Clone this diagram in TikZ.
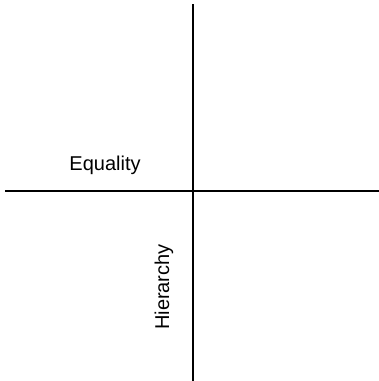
\documentclass[tikz,border=0pt]{standalone}
\usepackage{fontspec}
\setmainfont{Liberation Sans}
\begin{document}
\begin{tikzpicture}[x=1pt,y=-1pt,
  axis/.style={line width=1.6pt,black},
  lab/.style={font=\fontsize{20}{22}\selectfont,inner sep=0pt}]
\useasboundingbox (0,0) rectangle (379,381);
\coordinate (top) at (193,4);
\coordinate (bot) at (193,381);
\coordinate (left) at (5,191);
\coordinate (right) at (379,191);
\draw[axis] (top) -- (bot);
\draw[axis] (left) -- (right);
\node[lab,anchor=base] (eq) at (105,170) {Equality};
\node[lab,anchor=base,rotate=90] (hi) at (169,287) {Hierarchy};
\end{tikzpicture}
\end{document}
